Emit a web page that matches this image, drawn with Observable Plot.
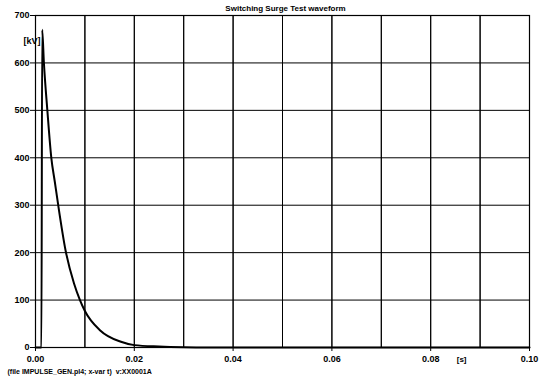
<!DOCTYPE html>
<html>
<head>
<meta charset="utf-8">
<script src="https://cdn.jsdelivr.net/npm/d3@7"></script>
<script src="https://cdn.jsdelivr.net/npm/@observablehq/plot@0.6"></script>
<style>
  body { margin: 0; background: #fff; }
  svg { display: block; }
</style>
</head>
<body>
<div id="chart"></div>
<script>
// Waveform (time in s, voltage in kV)
const timeS = [0, 0.0012, 0.00135, 0.0017, 0.0024, 0.0032, 0.0039, 0.0046, 0.0061, 0.0078, 0.009, 0.010, 0.0131, 0.0173, 0.020, 0.025, 0.030, 0.035, 0.10];
const voltageKV = [0, 0, 670, 600, 500, 400, 350, 300, 204, 135, 100, 77, 36, 12, 5, 2, 0.5, 0, 0];

const xGridTicks = [0, 0.01, 0.02, 0.03, 0.04, 0.05, 0.06, 0.07, 0.08, 0.09, 0.10];
const xLabelTicks = [0, 0.02, 0.04, 0.06, 0.08, 0.10];
const yTicks = [0, 100, 200, 300, 400, 500, 600, 700];

const titleText = "Switching Surge Test waveform";
const yUnit = "[kV]";
const xUnit = "[s]";
const captionText = "(file IMPULSE_GEN.pl4; x-var t)  v:XX0001A";

const data = timeS.map((t, i) => ({t, v: voltageKV[i]}));

const chart = Plot.plot({
  width: 549,
  height: 380,
  marginLeft: 35,
  marginRight: 20,
  marginTop: 15,
  marginBottom: 33,
  style: {fontFamily: "'Liberation Sans', Arial, sans-serif", fontSize: "9px", fontWeight: "bold", color: "black", background: "white"},
  x: {domain: [0, 0.1]},
  y: {domain: [0, 700]},
  marks: [
    Plot.gridX(xGridTicks, {stroke: "black", strokeOpacity: 1, strokeWidth: 1}),
    Plot.gridY(yTicks, {stroke: "black", strokeOpacity: 1, strokeWidth: 1}),
    Plot.frame({stroke: "black", strokeWidth: 1.2}),
    Plot.axisX(xLabelTicks, {tickFormat: ".2f", tickSize: 4, tickPadding: 4, label: null, stroke: "black"}),
    Plot.tickX(xGridTicks, {x: d => d, frameAnchor: "bottom", stroke: "black"}),
    Plot.axisY(yTicks, {tickSize: 5, tickPadding: 1, label: null, stroke: "black"}),
    Plot.line(data, {x: "t", y: "v", curve: "monotone-x", stroke: "black", strokeWidth: 2}),
    Plot.text([titleText], {frameAnchor: "top", dy: -10, dx: 3, fontSize: 8, fontWeight: "bold"}),
    Plot.text([yUnit], {frameAnchor: "top-left", dx: -12, dy: 22, fontSize: 9, fontWeight: "bold"}),
    Plot.text([xUnit], {frameAnchor: "bottom-right", dx: -63, dy: 14, fontSize: 8, fontWeight: "bold"}),
    Plot.text([captionText], {frameAnchor: "bottom-left", dx: -28, dy: 26, textAnchor: "start", fontSize: 7, fontWeight: "bold"})
  ]
});
document.getElementById("chart").appendChild(chart);
</script>
</body>
</html>
